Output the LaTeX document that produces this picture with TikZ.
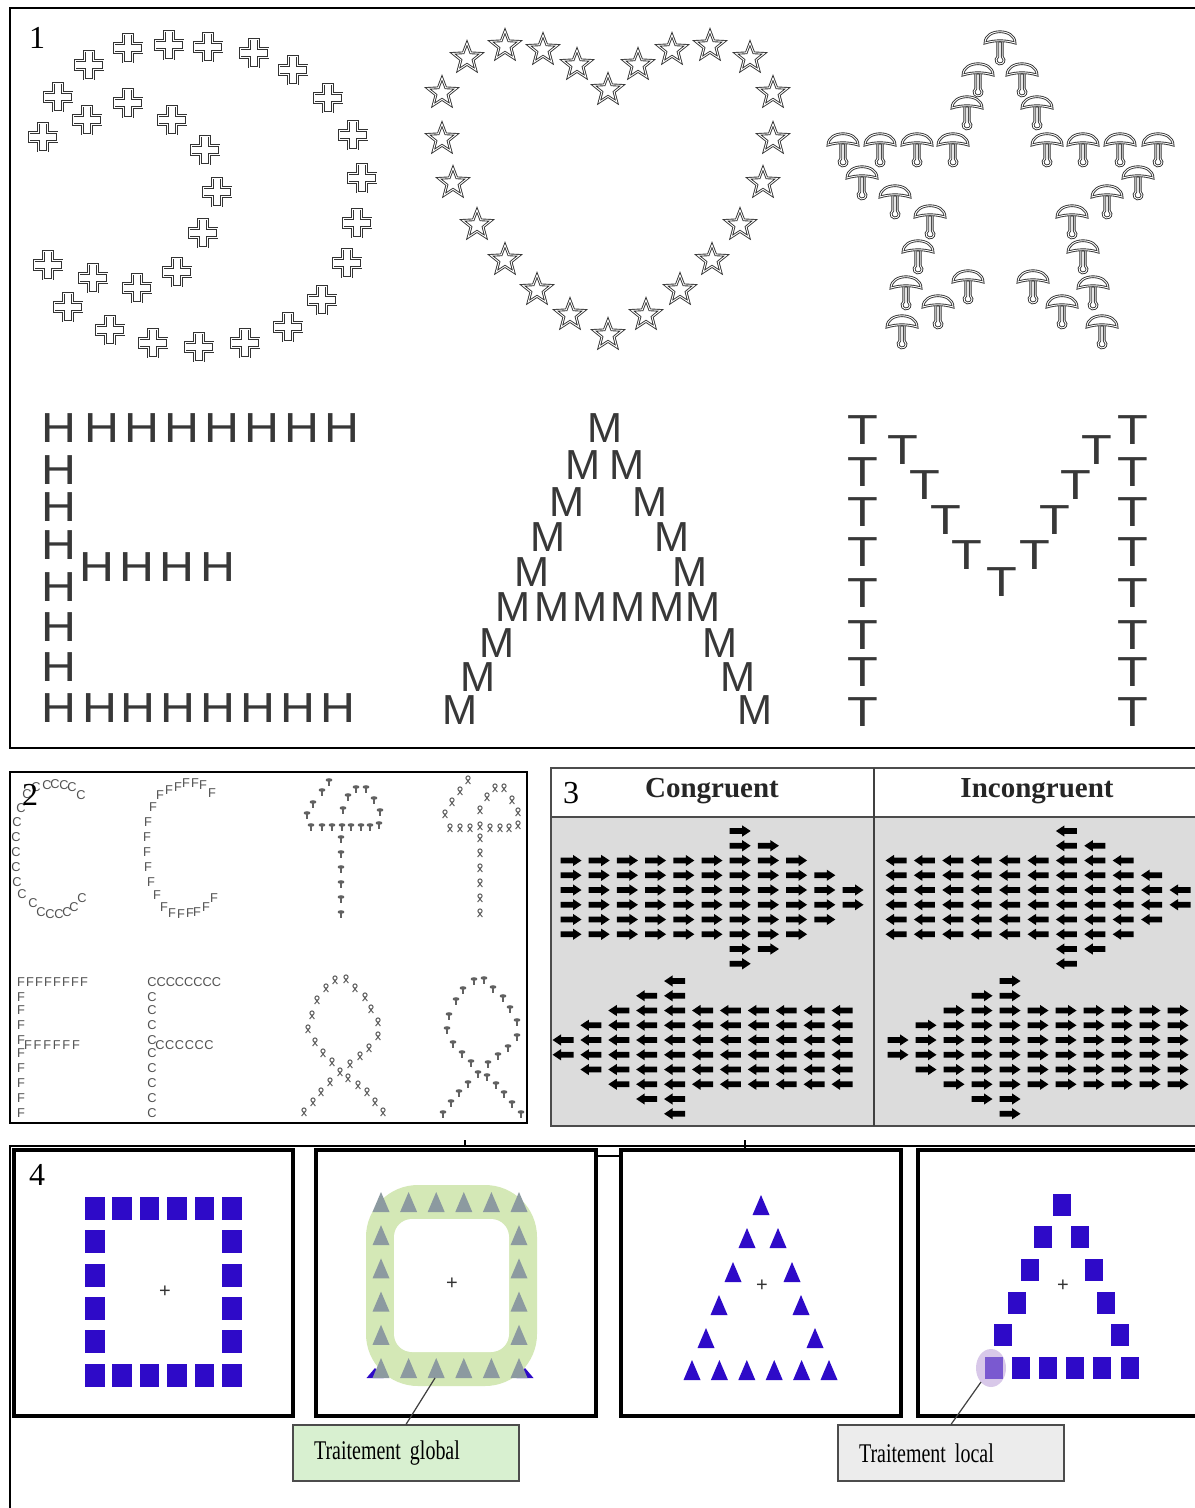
\documentclass[tikz,border=0pt]{standalone}
\usepackage{fontspec}
\setmainfont{Liberation Serif}
\newfontfamily\lsans{Liberation Sans}
\newfontfamily\lsansH[FakeStretch=1.15]{Liberation Sans}
\newfontfamily\lsansM[FakeStretch=1.0]{Liberation Sans}
\newfontfamily\lsansT[FakeStretch=1.2]{Liberation Sans}
\newfontfamily\serifN[FakeStretch=0.74]{Liberation Serif}
\usetikzlibrary{shapes.geometric}
\definecolor{sqblue}{RGB}{46,10,200}
\definecolor{trigrey}{RGB}{140,154,160}
\definecolor{lgreen}{RGB}{212,232,182}
\definecolor{boxgreen}{RGB}{216,240,208}
\definecolor{panelgrey}{RGB}{220,220,220}
\definecolor{boxgrey}{RGB}{236,236,236}
\definecolor{hilite}{RGB}{185,155,215}
\newcommand\arrowgrid[5]{%
  \foreach \r/\a/\b in {#5} {\foreach \c in {\a,...,\b} {\pic at ({#1+#2*(\c-1)},{#3+14.75*(\r-1)}) {#4};}}}
\begin{document}
\begin{tikzpicture}[x=0.5pt,y=-0.5pt,
  num/.style={font=\fontsize{16}{16}\selectfont, inner sep=0},
  hlet/.style={font=\lsansH\fontsize{21}{21}\selectfont, text=black!78, inner sep=0},
  mlet/.style={font=\lsansM\fontsize{21}{21}\selectfont, text=black!78, inner sep=0},
  tlet/.style={font=\lsansT\fontsize{21}{21}\selectfont, text=black!78, inner sep=0},
  sml/.style={font=\lsans\fontsize{6.4}{6.4}\selectfont, text=black!68, inner sep=0},
  starn/.style={star, star points=5, star point ratio=2.35, minimum size=15pt, inner sep=0, draw=black!80, line width=0.45pt, double=white, double distance=0.45pt},
  outl/.style={draw=black!80, line width=0.45pt, double=white, double distance=0.45pt, fill=white, line join=miter},
  hdrtxt/.style={font=\bfseries\fontsize{14.5}{14.5}\selectfont, text=black!85, inner sep=0},
  plusmk/.style={font=\lsans\fontsize{10}{10}\selectfont, text=black!80, inner sep=0},
  callout/.style={draw=black!70, line width=0.6pt, minimum height=28pt, text width=92pt, inner xsep=10.5pt, inner ysep=0pt, align=left, font=\serifN\fontsize{13.5}{13.5}\selectfont},
  leader/.style={draw=black!75, line width=0.6pt},
  crossp/.pic={\path[outl] (-4.5,-14) -- (4.5,-14) -- (4.5,-4.5) -- (14,-4.5) -- (14,4.5) -- (4.5,4.5) -- (4.5,14) -- (-4.5,14) -- (-4.5,4.5) -- (-14,4.5) -- (-14,-4.5) -- (-4.5,-4.5) -- cycle;},
  mushp/.pic={\path[outl] (-2.2,-1) -- (-2.2,14.66) arc[start angle=236.6, end angle=-56.6, radius=4] -- (2.2,-1) -- cycle;
              \path[outl] (-15,1) .. controls (-15,-14) and (15,-14) .. (15,1) .. controls (5,-2) and (-5,-2) .. cycle;},
  rarr/.pic={\fill[black] (-10.5,-2.8) -- (2,-2.8) -- (2,-5.6) -- (10.5,0) -- (2,5.6) -- (2,2.8) -- (-10.5,2.8) -- cycle;},
  larr/.pic={\fill[black] (10.5,-2.8) -- (-2,-2.8) -- (-2,-5.6) -- (-10.5,0) -- (-2,5.6) -- (-2,2.8) -- (10.5,2.8) -- cycle;},
  pinp/.pic={\fill[black!62] (0,0) ellipse (3.4 and 1.8); \draw[black!62, line width=0.6pt] (0,0) -- (0,5.5);},
  ribp/.pic={\draw[black!62, line width=0.5pt] (0,-2) circle (2.1) (-1.4,-0.6) -- (2.4,4) (1.4,-0.6) -- (-2.4,4);}
]
\useasboundingbox (0,0) rectangle (1194,1508);
\fill[white] (0,0) rectangle (1194,1508);

% ================= PANEL 1 =================
\draw[line width=1pt] (1200,8) -- (10,8) -- (10,748) -- (1200,748);
\node[num] (n1) at (37,38) {1};

\foreach \x/\y in {89/65,128/48,169/45,208/47,254/53,293/70,328/98,353/135,362/178,357/223,347/263,322/300,288/327,245/343,199/347,153/343,110/330,68/307,48/265,93/278,137/288,177/272,203/233,217/192,205/150,172/120,128/103,87/120,58/97,43/137}
  \pic at (\x,\y) {crossp};

\foreach \x/\y [count=\i] in {467/58,505/46,543/50,577/65,608/90,638/65,672/50,710/46,750/58,773/93,773/139,763/183,740/225,712/260,680/290,646/315,608/335,570/315,537/290,505/260,477/225,453/183,442/139,442/93}
  \node[starn] (st\i) at (\x,\y) {};

\foreach \x/\y in {1000/42,978/74,1022/74,967/107,1037/107,843/144,880/144,917/144,953/144,1047/144,1083/144,1120/144,1158/144,862/177,1138/177,895/196,1107/196,930/216,1072/216,918/251,1083/251,906/287,1093/287,968/281,1033/281,938/306,1062/306,902/326,1102/326}
  \pic at (\x,\y) {mushp};

\foreach \x/\y [count=\i] in {59/428,102/428,142/428,182/428,222/428,262/428,302/428,342/428,59/470,59/507,59/545,59/587,59/627,59/667,97/567,137/567,177/567,218/567,59/708,100/708,138/708,178/708,218/708,258/708,298/708,338/708}
  \node[hlet] (h\i) at (\x,\y) {H};

\foreach \x/\y [count=\i] in {605/428,583/465,627/465,567/502,650/502,548/537,672/537,532/572,690/572,513/607,552/607,590/607,628/607,667/607,703/607,497/643,720/643,478/677,738/677,460/710,755/710}
  \node[mlet] (m\i) at (\x,\y) {M};

\foreach \x/\y [count=\i] in {863/430,863/472,863/512,863/552,863/593,863/635,863/672,863/712,1133/430,1133/472,1133/512,1133/552,1133/593,1133/635,1133/672,1133/712,903/450,925/485,946/520,967/555,1002/582,1035/555,1055/520,1076/485,1097/450}
  \node[tlet] (t\i) at (\x,\y) {T};

% ================= PANEL 2 =================
\draw[line width=1.2pt] (10,772) rectangle (527,1123);

\foreach \x/\y [count=\i] in {36/787,47/785,55/784,64/785,72/787,81/795,21/808,17/822,16/837,16/852,16/867,17/882,22/894,33/903,41/912,50/914,59/914,67/912,74/907,82/898,27/794}
  \node[sml] (ca\i) at (\x,\y) {C};
\foreach \x/\y [count=\i] in {160/795,169/790,178/787,186/783,195/783,203/785,212/793,153/807,148/822,147/837,147/852,148/867,151/882,157/895,164/907,172/913,181/914,190/913,197/912,206/907,214/898}
  \node[sml] (fa\i) at (\x,\y) {F};
\node[num] (n2) at (30,795) {2};

\foreach \x/\y in {329/780,322/790,313/802,307/813,348/795,356/787,366/787,374/798,380/810,343/808,311/825,322/825,332/825,342/825,351/825,361/825,370/825,379/823,341/837,341/852,341/867,341/882,341/897,341/912}
  \pic at (\x,\y) {pinp};
\foreach \x/\y in {468/780,460/791,452/802,445/814,487/797,495/788,504/788,512/800,518/812,480/810,450/828,460/828,470/828,480/826,490/828,500/828,509/828,518/825,480/838,480/853,480/868,480/883,480/898,480/913}
  \pic at (\x,\y) {ribp};

\foreach \i in {0,...,7} \node[sml] (fb\i) at ({21+9*\i},982) {F};
\foreach \y [count=\i] in {997,1010,1025,1040,1053,1068,1083,1098,1113} \node[sml] (fc\i) at (21,\y) {F};
\foreach \i in {0,...,5} \node[sml] (fd\i) at ({28+9.6*\i},1045) {F};
\foreach \i in {0,...,7} \node[sml] (cb\i) at ({152+9.2*\i},982) {C};
\foreach \y [count=\i] in {997,1010,1025,1040,1053,1068,1083,1098,1113} \node[sml] (cc\i) at (152,\y) {C};
\foreach \i in {0,...,5} \node[sml] (cd\i) at ({160+9.8*\i},1045) {C};

\foreach \x/\y in {335/980,346/979,355/988,365/997,371/1009,378/1022,378/1036,369/1048,360/1056,350/1064,326/988,317/1000,312/1015,308/1029,315/1042,323/1053,332/1062,340/1072,348/1078,358/1085,367/1092,375/1102,383/1112,330/1082,321/1092,313/1102,304/1112}
  \pic at (\x,\y) {ribp};
\foreach \x/\y in {474/979,484/978,493/987,503/996,510/1007,517/1020,517/1035,508/1046,498/1054,488/1062,478/1072,463/988,456/999,449/1014,447/1028,453/1042,462/1052,471/1061,487/1075,496/1083,504/1092,512/1102,521/1112,468/1082,459/1091,451/1101,443/1112}
  \pic at (\x,\y) {pinp};

% ================= PANEL 3 =================
\fill[panelgrey] (551,817) rectangle (1200,1126);
\draw[black!70, line width=0.9pt] (1200,768) -- (551,768) -- (551,1126) -- (1200,1126);
\draw[black!70, line width=0.9pt] (551,817) -- (1200,817);
\draw[black!75, line width=0.9pt] (874,768) -- (874,1126);
\node[num] (n3) at (571,793) {3};
\node[hdrtxt] (cong) at (712,791) {Congruent};
\node[hdrtxt] (incong) at (1037,791) {Incongruent};

\arrowgrid{571}{28.2}{831}{rarr}{1/7/7,2/7/8,3/1/9,4/1/10,5/1/11,6/1/11,7/1/10,8/1/9,9/7/8,10/7/7}
\arrowgrid{896}{28.4}{831}{larr}{1/7/7,2/7/8,3/1/9,4/1/10,5/1/11,6/1/11,7/1/10,8/1/9,9/7/8,10/7/7}
\arrowgrid{563}{27.9}{981}{larr}{1/5/5,2/4/5,3/3/11,4/2/11,5/1/11,6/1/11,7/2/11,8/3/11,9/4/5,10/5/5}
\arrowgrid{898}{28.0}{981}{rarr}{1/5/5,2/4/5,3/3/11,4/2/11,5/1/11,6/1/11,7/2/11,8/3/11,9/4/5,10/5/5}

% ================= PANEL 4 =================
\draw[line width=1pt] (10,1510) -- (10,1146) -- (1200,1146);
\draw[line width=0.8pt] (465,1140) -- (465,1147) (745,1140) -- (745,1148);
\draw[line width=1pt] (596,1156) -- (621,1156);
\draw[line width=2pt] (14,1150) rectangle (293,1416);
\draw[line width=2pt] (316,1150) rectangle (596,1416);
\draw[line width=2pt] (621,1150) rectangle (901,1416);
\draw[line width=2pt] (1200,1150) -- (918,1150) -- (918,1416) -- (1200,1416);
\node[num] (n4) at (37,1175) {4};

% box 1 : squares
\foreach \i in {0,...,5} {
  \fill[sqblue] ({85+27.4*\i},1197) rectangle ++(19.5,23);
  \fill[sqblue] ({85+27.4*\i},1363.5) rectangle ++(19.5,23);
}
\foreach \j in {1,...,4} {
  \fill[sqblue] (85,{1197+33.3*\j}) rectangle ++(19.5,23);
  \fill[sqblue] (222,{1197+33.3*\j}) rectangle ++(19.5,23);
}
\node[plusmk] (p1) at (165,1292) {+};

% box 2 : global
\fill[lgreen, rounded corners=26] (366,1185) rectangle (537,1386);
\fill[white, rounded corners=9] (394,1219) rectangle (509,1352);
\fill[sqblue] (375,1368) -- ++(-8.5,10) -- ++(17,0) -- cycle;
\fill[sqblue] (525,1368) -- ++(-8.5,10) -- ++(17,0) -- cycle;
\foreach \i in {0,...,5} {
  \fill[trigrey] ({381+27.6*\i},1192) -- ++(-8.5,20) -- ++(17,0) -- cycle;
  \fill[trigrey] ({381+27.6*\i},1358) -- ++(-8.5,20) -- ++(17,0) -- cycle;
}
\foreach \j in {1,...,4} {
  \fill[trigrey] (381,{1192+33.2*\j}) -- ++(-8.5,20) -- ++(17,0) -- cycle;
  \fill[trigrey] (519,{1192+33.2*\j}) -- ++(-8.5,20) -- ++(17,0) -- cycle;
}
\node[plusmk] (p2) at (452,1284) {+};

% box 3 : triangles
\foreach \x/\y in {761/1205,747/1238,778/1238,733/1272,792/1272,719/1305,801/1305,706/1338,815/1338,692/1370,719.4/1370,746.8/1370,774.2/1370,801.6/1370,829/1370}
  \fill[sqblue] (\x,{\y-10}) -- ++(-8.5,20) -- ++(17,0) -- cycle;
\node[plusmk] (p3) at (762,1286) {+};

% box 4 : squares
\foreach \x/\y in {1062/1205,1043/1237,1080/1237,1030/1270,1094/1270,1017/1303,1106/1303,1003/1335,1120/1335,994/1368,1021/1368,1048/1368,1075/1368,1102/1368,1130/1368}
  \fill[sqblue] ({\x-9},{\y-11}) rectangle ++(18,22);
\fill[hilite, opacity=0.55] (991,1368) ellipse (15 and 19);
\node[plusmk] (p4) at (1063,1286) {+};

% callouts
\coordinate (gpt) at (435,1378);
\coordinate (lpt) at (981,1382);
\node[callout, fill=boxgreen] (tg) at (406,1453) {Traitement global};
\node[callout, fill=boxgrey] (tl) at (951,1453) {Traitement local};
\draw[leader] (tg.north) -- (gpt);
\draw[leader] (tl.north) -- (lpt);
\end{tikzpicture}
\end{document}
